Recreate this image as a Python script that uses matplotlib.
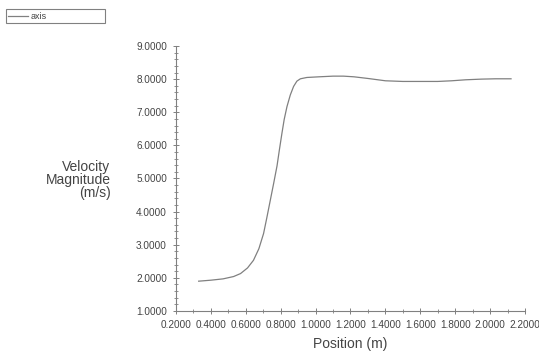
import matplotlib
matplotlib.use("Agg")
import matplotlib.pyplot as plt
from matplotlib.ticker import MultipleLocator, FormatStrFormatter

plt.rcParams["font.family"] = ["Liberation Sans", "DejaVu Sans"]

# velocity magnitude along the axis
position = [0.33, 0.40, 0.47, 0.53, 0.57, 0.61, 0.644, 0.675, 0.702, 0.72, 0.74,
            0.76, 0.779, 0.793, 0.807, 0.82, 0.836, 0.855, 0.874, 0.893, 0.913,
            0.95, 1.02, 1.10, 1.16, 1.22, 1.30, 1.40, 1.50, 1.60, 1.70, 1.78,
            1.86, 1.95, 2.03, 2.12]
velocity = [1.90, 1.93, 1.97, 2.04, 2.13, 2.30, 2.53, 2.88, 3.34, 3.80, 4.33,
            4.86, 5.38, 5.88, 6.36, 6.78, 7.17, 7.52, 7.78, 7.94, 8.01,
            8.05, 8.07, 8.09, 8.09, 8.07, 8.02, 7.95, 7.93, 7.93, 7.93, 7.95,
            7.98, 8.00, 8.01, 8.01]
series_name = "axis"

grey = "#808080"
txt = "#444444"

fig = plt.figure(figsize=(5.39, 3.58), dpi=100)
ax = fig.add_axes([0.3265, 0.1313, 0.6475, 0.7402])

line, = ax.plot(position, velocity, color=grey, lw=0.9, label=series_name)

ax.set_xlim(0.2, 2.2)
ax.set_ylim(1.0, 9.0)
ax.xaxis.set_major_locator(MultipleLocator(0.2))
ax.xaxis.set_minor_locator(MultipleLocator(0.1))
ax.yaxis.set_major_locator(MultipleLocator(1.0))
ax.yaxis.set_minor_locator(MultipleLocator(0.2))
ax.xaxis.set_major_formatter(FormatStrFormatter("%.4f"))
ax.yaxis.set_major_formatter(FormatStrFormatter("%.4f"))

for s in ["top", "right"]:
    ax.spines[s].set_visible(False)
for s in ["left", "bottom"]:
    ax.spines[s].set_color(grey)
    ax.spines[s].set_linewidth(0.8)

ax.tick_params(axis="both", which="major", direction="inout", length=5,
               width=0.7, color=grey, labelsize=7.2, labelcolor=txt, pad=4)
ax.tick_params(axis="both", which="minor", direction="inout", length=3,
               width=0.6, color=grey)

ax.set_xlabel("Position (m)", fontsize=10, color=txt, labelpad=5)
fig.text(0.205, 0.497, "Velocity\nMagnitude\n(m/s)", fontsize=10, color=txt,
         ha="right", va="center", linespacing=0.9)

leg = fig.legend(handles=[line], loc="lower left",
                 bbox_to_anchor=(6 / 539, 1 - 23 / 358, 99 / 539, 14 / 358),
                 mode="expand", fancybox=False, framealpha=1, fontsize=6.5,
                 handlelength=2.2, handletextpad=0.3, borderpad=0.25,
                 borderaxespad=0)
leg.get_frame().set_edgecolor(grey)
leg.get_frame().set_linewidth(0.8)
for t in leg.get_texts():
    t.set_color(txt)

fig.savefig("out.png", dpi=100)
